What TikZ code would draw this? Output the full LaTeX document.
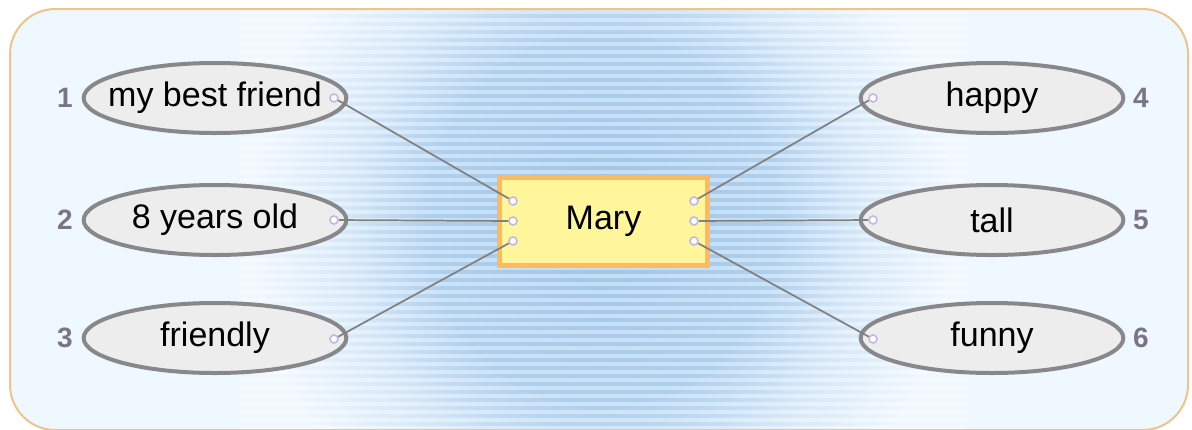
\documentclass[tikz,border=0pt]{standalone}
\usepackage{fontspec}
\setmainfont{Liberation Sans}
\usepackage{tikz}
\usetikzlibrary{shapes.geometric}

\definecolor{panelbg}{RGB}{240,248,255}
\definecolor{panelrim}{RGB}{236,196,140}
\definecolor{glowA}{RGB}{156,196,232}
\definecolor{glowB}{RGB}{174,208,239}
\definecolor{glowC}{RGB}{212,231,248}
\definecolor{bubblefill}{RGB}{237,237,237}
\definecolor{bubblerim}{RGB}{136,136,140}
\definecolor{maryfill}{RGB}{255,245,155}
\definecolor{maryrim}{RGB}{255,185,95}
\definecolor{portrim}{RGB}{192,184,226}
\definecolor{linkgray}{RGB}{128,128,128}
\definecolor{numgray}{RGB}{122,116,136}

\pgfdeclareradialshading{glow}{\pgfpointorigin}{color(0bp)=(glowA); color(11bp)=(glowB); color(16bp)=(glowC); color(22bp)=(panelbg); color(50bp)=(panelbg)}

\begin{document}
\begin{tikzpicture}[x=0.75pt,y=0.75pt,yscale=-1,xscale=1,
  bubble/.style={ellipse, draw=bubblerim, line width=3pt, fill=bubblefill,
    minimum width=197pt, minimum height=52.5pt, inner sep=0pt,
    font=\fontsize{25.5}{30}\selectfont},
  marybox/.style={rectangle, draw=maryrim, line width=3.75pt, fill=maryfill,
    minimum width=156pt, minimum height=66pt, inner sep=0pt,
    font=\fontsize{25.5}{30}\selectfont},
  port/.style={circle, draw=portrim, fill=white, line width=1.2pt,
    minimum size=6pt, inner sep=0pt},
  link/.style={draw=linkgray, line width=1.3pt},
  number/.style={text=numgray, font=\fontsize{21}{25}\selectfont\bfseries},
  stripe/.style={draw=white, opacity=0.4, line width=3pt}]
\useasboundingbox (0,0) rectangle (1192,429);

%Shape: Panel with glow
\begin{scope}
\clip[rounded corners=34pt] (10,9) rectangle (1188,430);
\fill[panelbg] (0,0) rectangle (1192,429);
\shade[shading=glow] (200,-200) rectangle (1006,640);
\foreach \y in {12,20,...,428}
  \draw[stripe] (240,\y) -- (966,\y);
\end{scope}
\draw[panelrim, line width=1.5pt, rounded corners=34pt] (10,9) rectangle (1188,430);

%Shape: Centre box
\node[marybox] (mary) at (603.5,221.5) {\raisebox{-2pt}{Mary}};

%Shape: Ellipses
\node[bubble] (b1) at (215,98) {\makebox[0pt]{\raisebox{-1.5pt}{my best friend}}};
\node[bubble] (b2) at (215,220) {\makebox[0pt]{\raisebox{-1.5pt}{8 years old}}};
\node[bubble] (b3) at (215,338) {\makebox[0pt]{\raisebox{-1.5pt}{friendly}}};
\node[bubble] (b4) at (992,98) {\makebox[0pt]{\raisebox{-1.5pt}{happy}}};
\node[bubble] (b5) at (992,220) {\makebox[0pt]{\raisebox{-1.5pt}{tall}}};
\node[bubble] (b6) at (992,338) {\makebox[0pt]{\raisebox{-1.5pt}{funny}}};

% Text Node
\node[number] (n1) at (65,98) {1};
\node[number] (n2) at (65,220) {2};
\node[number] (n3) at (65,338) {3};
\node[number] (n4) at (1141,98) {4};
\node[number] (n5) at (1141,220) {5};
\node[number] (n6) at (1141,338) {6};

%Shape: Ports
\node[port] (p1) at (334,98) {};
\node[port] (p2) at (334,220) {};
\node[port] (p3) at (334,339) {};
\node[port] (p4) at (873,98) {};
\node[port] (p5) at (873,220) {};
\node[port] (p6) at (873,339) {};
\node[port] (m1) at (513,201) {};
\node[port] (m2) at (513,221) {};
\node[port] (m3) at (513,241) {};
\node[port] (m4) at (694,201) {};
\node[port] (m5) at (694,221) {};
\node[port] (m6) at (694,241) {};

%Straight Lines
\draw[link] (p1) -- (m1);
\draw[link] (p2) -- (m2);
\draw[link] (p3) -- (m3);
\draw[link] (p4) -- (m4);
\draw[link] (p5) -- (m5);
\draw[link] (p6) -- (m6);

\end{tikzpicture}
\end{document}
